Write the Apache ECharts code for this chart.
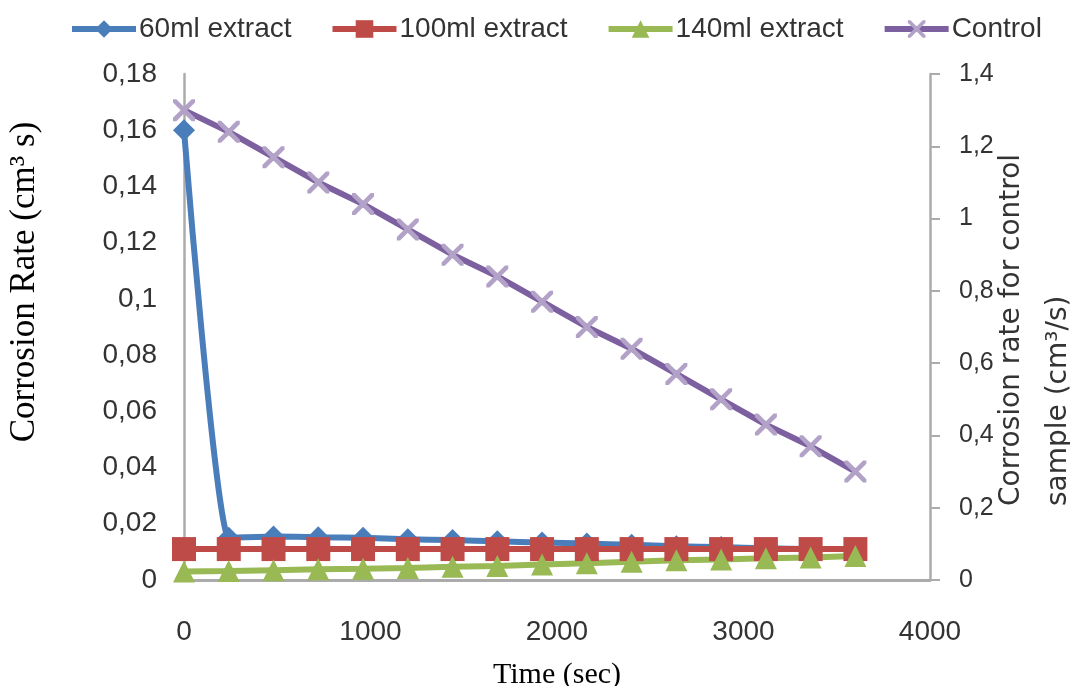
<!DOCTYPE html>
<html>
<head>
<meta charset="utf-8">
<script src="https://cdn.jsdelivr.net/npm/echarts@6/dist/echarts.min.js"></script>
<style>
  html, body { margin: 0; padding: 0; background: #fff; }
  #chart { width: 1070px; height: 686px; }
</style>
</head>
<body>
<div id="chart"></div>
<script>
// time in seconds
const times = [0, 240, 480, 720, 960, 1200, 1440, 1680, 1920, 2160, 2400, 2640, 2880, 3120, 3360, 3600]
const extract60 = [0.16, 0.015, 0.0155, 0.0152, 0.015, 0.0145, 0.0142, 0.0138, 0.0133, 0.013, 0.0125, 0.012, 0.0117, 0.0113, 0.011, 0.011]
const extract100 = [0.011, 0.011, 0.011, 0.011, 0.011, 0.011, 0.011, 0.011, 0.011, 0.011, 0.011, 0.011, 0.011, 0.011, 0.011, 0.011]
const extract140 = [0.003, 0.0032, 0.0035, 0.0038, 0.004, 0.0043, 0.0047, 0.005, 0.0055, 0.006, 0.0065, 0.007, 0.0073, 0.0077, 0.008, 0.0085]
const control = [1.30, 1.24, 1.17, 1.10, 1.04, 0.97, 0.90, 0.84, 0.77, 0.70, 0.64, 0.57, 0.50, 0.43, 0.37, 0.30]
const seriesNames = ['60ml extract', '100ml extract', '140ml extract', 'Control']

function pairs(values) {
  return times.map((t, i) => [t, values[i]])
}
function comma(value) {
  return String(+value.toFixed(2)).replace('.', ',')
}

const crossPath = 'path://M0,0L1.5,0L10,8.5L10,10L8.5,10L0,1.5Z M8.5,0L10,0L10,1.5L1.5,10L0,10L0,8.5Z'
const axisGray = '#ababab'
const sans = '"Liberation Sans", Arial, sans-serif'
const serif = '"Liberation Serif", "Times New Roman", serif'

const chart = echarts.init(document.getElementById('chart'))
chart.setOption({
  animation: false,
  legend: {
    data: seriesNames,
    left: 64,
    top: 10,
    itemWidth: 64,
    itemHeight: 22,
    itemGap: 38,
    lineStyle: { width: 6 },
    textStyle: { fontFamily: sans, fontSize: 28, color: '#333', padding: [0, 0, 0, -2] }
  },
  grid: {
    left: 184,
    right: 140,
    top: 74,
    bottom: 106,
    outerBoundsMode: 'none'
  },
  xAxis: {
    type: 'value',
    min: 0,
    max: 4000,
    interval: 1000,
    name: 'Time (sec)',
    nameLocation: 'middle',
    nameGap: 80,
    nameTextStyle: { fontFamily: serif, fontSize: 30, color: '#000' },
    axisLine: { lineStyle: { color: axisGray, width: 3 } },
    axisTick: { show: false },
    splitLine: { show: false },
    axisLabel: { fontFamily: sans, fontSize: 28, color: '#333', margin: 38, formatter: v => String(v) }
  },
  yAxis: [
    {
      type: 'value',
      min: 0,
      max: 0.18,
      interval: 0.02,
      axisLine: { show: true, lineStyle: { color: axisGray, width: 2.5 } },
      axisTick: { show: false },
      splitLine: { show: false },
      axisLabel: { fontFamily: sans, fontSize: 28, color: '#333', margin: 27, formatter: comma }
    },
    {
      type: 'value',
      position: 'right',
      min: 0,
      max: 1.4,
      interval: 0.2,
      axisLine: { show: true, lineStyle: { color: axisGray, width: 2.5 } },
      axisTick: { show: true, length: 10, lineStyle: { color: axisGray, width: 2 } },
      splitLine: { show: false },
      axisLabel: { fontFamily: sans, fontSize: 25, color: '#333', margin: 29, formatter: comma }
    }
  ],
  graphic: [
    {
      type: 'text',
      x: 25,
      y: 282,
      rotation: Math.PI / 2,
      style: {
        text: 'Corrosion Rate (cm³ s)',
        font: '35px "Liberation Serif", serif',
        fill: '#000',
        align: 'center',
        verticalAlign: 'middle'
      }
    },
    {
      type: 'text',
      x: 1035,
      y: 506,
      rotation: Math.PI / 2,
      style: {
        text: 'Corrosion rate for control\nsample (cm³/s)',
        font: '28px "DejaVu Sans", sans-serif',
        lineHeight: 47,
        fill: '#333',
        align: 'left',
        verticalAlign: 'middle'
      }
    }
  ],
  series: [
    {
      name: seriesNames[0],
      type: 'line',
      yAxisIndex: 0,
      smooth: 0.15,
      data: pairs(extract60),
      symbol: 'diamond',
      symbolSize: 22,
      lineStyle: { color: '#4a7ebb', width: 6 },
      itemStyle: { color: '#4a7ebb' }
    },
    {
      name: seriesNames[1],
      type: 'line',
      yAxisIndex: 0,
      data: pairs(extract100),
      symbol: 'rect',
      symbolSize: 24,
      lineStyle: { color: '#be4b48', width: 6 },
      itemStyle: { color: '#be4b48' }
    },
    {
      name: seriesNames[2],
      type: 'line',
      yAxisIndex: 0,
      data: pairs(extract140),
      symbol: 'triangle',
      symbolSize: 22,
      lineStyle: { color: '#98b954', width: 6 },
      itemStyle: { color: '#98b954' }
    },
    {
      name: seriesNames[3],
      type: 'line',
      yAxisIndex: 1,
      data: pairs(control),
      symbol: crossPath,
      symbolSize: 22,
      lineStyle: { color: '#7d60a0', width: 6 },
      itemStyle: { color: '#b3a2c7' }
    }
  ]
})
</script>
</body>
</html>
